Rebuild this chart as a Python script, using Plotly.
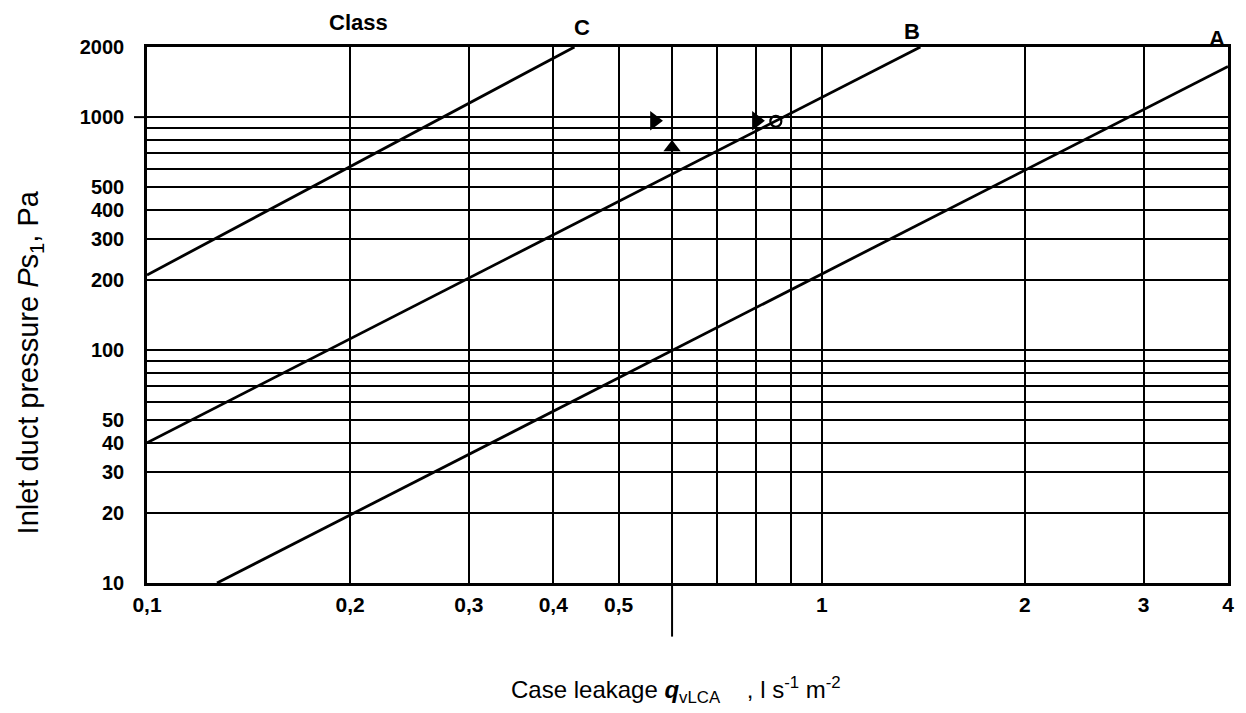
import plotly.graph_objects as go

class_c_q = [0.1, 0.43]
class_c_p = [210, 2000]
class_b_q = [0.1, 1.4]
class_b_p = [40, 2000]
class_a_q = [0.127, 4.0]
class_a_p = [10, 1650]

class_names = ["C", "B", "A"]

# Example reading marks
arrow_right_q = [0.565, 0.80]
arrow_right_p = [965, 965]
arrow_up_q = [0.6]
arrow_up_p = [740]
circle_q = [0.855]
circle_p = [960]

x_grid = [0.1, 0.2, 0.3, 0.4, 0.5, 0.6, 0.7, 0.8, 0.9, 1, 2, 3, 4]
x_text = ["0,1", "0,2", "0,3", "0,4", "0,5", "", "", "", "", "1", "2", "3", "4"]
y_grid = [10, 20, 30, 40, 50, 60, 70, 80, 90, 100, 200, 300, 400, 500, 600, 700, 800, 900, 1000, 2000]
y_text = ["10", "20", "30", "40", "50", "", "", "", "", "100", "200", "300", "400", "500", "", "", "", "", "1000", "2000"]

FONT = "Liberation Sans, Arial, sans-serif"

fig = go.Figure()
for q, p in [(class_c_q, class_c_p), (class_b_q, class_b_p), (class_a_q, class_a_p)]:
    fig.add_trace(go.Scatter(x=q, y=p, mode="lines", line=dict(color="black", width=2.8),
                             hoverinfo="skip", showlegend=False))

fig.add_trace(go.Scatter(x=arrow_right_q, y=arrow_right_p, mode="markers",
                         marker=dict(symbol="triangle-right", size=17, color="black"),
                         showlegend=False))
fig.add_trace(go.Scatter(x=arrow_up_q, y=arrow_up_p, mode="markers",
                         marker=dict(symbol="triangle-up", size=15, color="black"),
                         showlegend=False))
fig.add_trace(go.Scatter(x=circle_q, y=circle_p, mode="markers",
                         marker=dict(symbol="circle-open", size=11, color="black", line=dict(width=2.2)),
                         showlegend=False))

fig.update_xaxes(type="log", range=[-1, 0.60206], tickvals=x_grid,
                 ticktext=["<b>%s</b>" % t if t else "" for t in x_text],
                 showgrid=True, gridcolor="black", gridwidth=2,
                 showline=True, linecolor="black", linewidth=2.5, mirror=True,
                 ticks="", zeroline=False, ticklabelstandoff=1,
                 tickfont=dict(family=FONT, size=21, color="black"))
fig.update_yaxes(type="log", range=[1, 3.30103], tickvals=y_grid,
                 ticktext=["<b>%s</b>" % t if t else "" for t in y_text],
                 showgrid=True, gridcolor="black", gridwidth=2,
                 showline=True, linecolor="black", linewidth=2.5, mirror=True,
                 ticks="", zeroline=False, ticklabelstandoff=16,
                 tickfont=dict(family=FONT, size=20, color="black"))

# axis titles
fig.add_annotation(text="Case leakage <b><i>q</i></b><sub>vLCA</sub>    , l s<sup>-1</sup> m<sup>-2</sup>",
                   xref="paper", yref="paper", x=0.489, y=-0.2, xanchor="center", yanchor="middle",
                   showarrow=False, font=dict(family=FONT, size=24, color="black"))
fig.add_annotation(text="Inlet duct pressure <i>P</i>s<sub>1</sub>, Pa",
                   xref="paper", yref="paper", x=-0.108, y=0.412, xanchor="center", yanchor="middle",
                   textangle=-90, showarrow=False, font=dict(family=FONT, size=29, color="black"))

# extended tick marks
fig.add_shape(type="line", xref="x", yref="paper", x0=0.6, x1=0.6, y0=-0.1, y1=0,
              line=dict(color="black", width=2))
fig.add_shape(type="line", xref="paper", yref="y", x0=-0.012, x1=0, y0=1000, y1=1000,
              line=dict(color="black", width=2))

labels = [("Class", 0.196, 1.045), ("C", 0.402, 1.037), ("B", 0.708, 1.028), ("A", 0.990, 1.015)]
for t, xp, yp in labels:
    fig.add_annotation(text="<b>%s</b>" % t, xref="paper", yref="paper", x=xp, y=yp,
                       xanchor="center", yanchor="middle",
                       showarrow=False, font=dict(family=FONT, size=22, color="black"))

fig.update_layout(width=1246, height=713, margin=dict(l=147, r=18, t=47, b=130),
                  paper_bgcolor="white", plot_bgcolor="white", showlegend=False)

fig.write_html("out.html")
